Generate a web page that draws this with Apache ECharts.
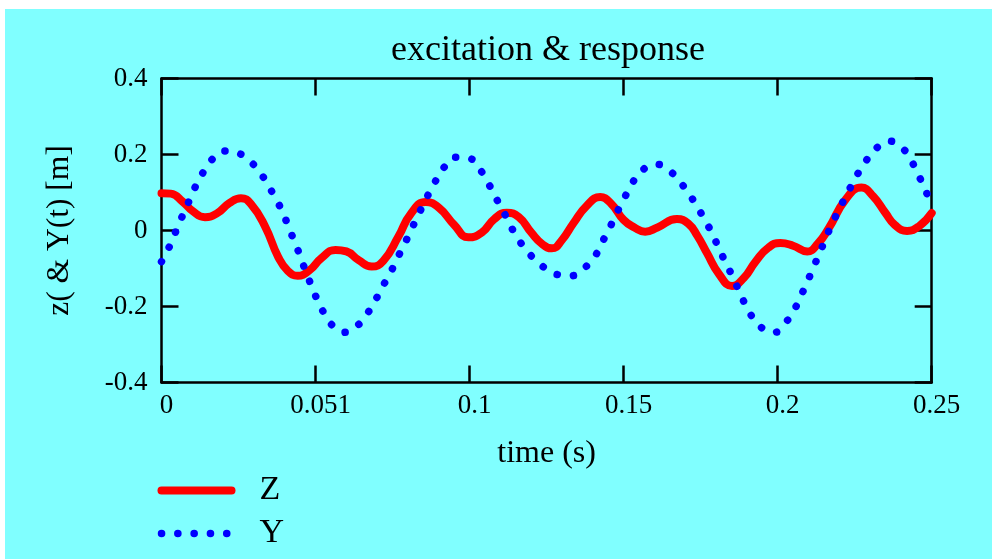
<!DOCTYPE html>
<html>
<head>
<meta charset="utf-8">
<script src="https://cdn.jsdelivr.net/npm/echarts@6/dist/echarts.min.js"></script>
<style>
  html, body { margin: 0; padding: 0; background: #ffffff; }
  #bg { position: absolute; left: 5px; top: 9px; width: 987px; height: 550px; background: #80ffff; }
  #chart { position: absolute; left: 0; top: 0; width: 992px; height: 559px; }
</style>
</head>
<body>
<div id="bg"></div>
<div id="chart"></div>
<script>
// ---- data ----
var zTime = [0, 0.003, 0.007, 0.010, 0.0141, 0.018, 0.022, 0.0258, 0.029, 0.0336, 0.0379, 0.041, 0.0442, 0.048, 0.052, 0.0565, 0.060, 0.064, 0.0682, 0.072, 0.0769, 0.081, 0.0858, 0.090, 0.095, 0.0996, 0.104, 0.108, 0.1121, 0.116, 0.120, 0.1235, 0.1267, 0.130, 0.1337, 0.138, 0.1424, 0.146, 0.150, 0.1535, 0.157, 0.161, 0.1673, 0.171, 0.174, 0.1771, 0.181, 0.1852, 0.189, 0.1928, 0.197, 0.2009, 0.205, 0.2096, 0.213, 0.2166, 0.222, 0.2272, 0.231, 0.235, 0.238, 0.242, 0.246, 0.25];
var zValues = [0.098, 0.097, 0.075, 0.052, 0.035, 0.045, 0.072, 0.085, 0.070, 0.011, -0.070, -0.106, -0.119, -0.105, -0.072, -0.051, -0.055, -0.078, -0.095, -0.080, -0.016, 0.045, 0.075, 0.060, 0.015, -0.018, -0.005, 0.030, 0.047, 0.035, -0.005, -0.035, -0.047, -0.025, 0.019, 0.065, 0.088, 0.070, 0.028, 0.008, -0.003, 0.008, 0.030, 0.018, -0.015, -0.060, -0.115, -0.146, -0.125, -0.082, -0.045, -0.033, -0.040, -0.055, -0.035, 0.006, 0.081, 0.113, 0.090, 0.046, 0.015, -0.001, 0.012, 0.046];

var yTime = [0, 0.0024, 0.0045, 0.0065, 0.0087, 0.0108, 0.0133, 0.0162, 0.0206, 0.0257, 0.0297, 0.033, 0.0357, 0.0382, 0.0404, 0.0423, 0.0443, 0.0461, 0.048, 0.05, 0.0523, 0.055, 0.0593, 0.0639, 0.0671, 0.0698, 0.0723, 0.0748, 0.0771, 0.0795, 0.0817, 0.084, 0.0863, 0.0888, 0.0916, 0.0953, 0.1002, 0.1037, 0.1063, 0.1088, 0.1113, 0.1137, 0.1164, 0.1197, 0.1235, 0.1279, 0.133, 0.1375, 0.1409, 0.1433, 0.1457, 0.148, 0.1504, 0.1529, 0.1561, 0.1608, 0.1655, 0.1689, 0.172, 0.1748, 0.1774, 0.1797, 0.1819, 0.1842, 0.1864, 0.1886, 0.191, 0.1942, 0.1988, 0.2028, 0.2057, 0.2079, 0.2101, 0.2121, 0.2142, 0.2162, 0.2184, 0.2207, 0.2232, 0.2257, 0.2285, 0.2317, 0.2362, 0.2407, 0.2437, 0.246, 0.2482, 0.25];
var yValues = [-0.082, -0.045, -0.005, 0.033, 0.073, 0.112, 0.150, 0.185, 0.209, 0.201, 0.175, 0.141, 0.104, 0.067, 0.027, -0.012, -0.052, -0.092, -0.132, -0.172, -0.211, -0.246, -0.268, -0.248, -0.215, -0.178, -0.140, -0.103, -0.064, -0.025, 0.013, 0.052, 0.090, 0.128, 0.165, 0.193, 0.189, 0.157, 0.121, 0.082, 0.045, 0.006, -0.030, -0.064, -0.093, -0.115, -0.119, -0.097, -0.065, -0.027, 0.011, 0.050, 0.088, 0.126, 0.159, 0.174, 0.153, 0.122, 0.087, 0.050, 0.013, -0.025, -0.064, -0.102, -0.140, -0.180, -0.218, -0.252, -0.268, -0.240, -0.204, -0.166, -0.126, -0.088, -0.048, -0.009, 0.030, 0.068, 0.107, 0.145, 0.181, 0.214, 0.235, 0.215, 0.179, 0.141, 0.102, 0.063];

var xTickLabels = ['0', '0.051', '0.1', '0.15', '0.2', '0.25'];
var seriesNames = ['Z', 'Y'];

// ---- chart ----
var FONT = "'Liberation Serif', 'Times New Roman', serif";
function pairs(t, v) { return t.map(function (x, i) { return [x, v[i]]; }); }

var axisLine = { show: true, onZero: false, lineStyle: { color: '#000', width: 2.5 } };
var axisTick = { show: true, inside: true, length: 17, lineStyle: { color: '#000', width: 2.5 } };
var hiddenSymbol = { color: 'rgba(0,0,0,0)', borderColor: 'rgba(0,0,0,0)', borderWidth: 0, opacity: 0 };

var chart = echarts.init(document.getElementById('chart'), null, { renderer: 'canvas' });
chart.setOption({
  backgroundColor: 'transparent',
  animation: false,
  title: {
    text: 'excitation & response',
    left: 386,
    top: 26,
    textStyle: { fontFamily: FONT, fontSize: 36, fontWeight: 'normal', color: '#000', lineHeight: 40 }
  },
  grid: { left: 161.5, right: 60.3, top: 78.5, bottom: 176.5, containLabel: false },
  xAxis: [{
    type: 'value', min: 0, max: 0.25, interval: 0.05, position: 'bottom',
    axisLine: axisLine, axisTick: axisTick, splitLine: { show: false },
    axisLabel: {
      fontFamily: FONT, fontSize: 27, color: '#000', margin: 10, padding: [0, 0, 0, 10],
      formatter: function (v) { return xTickLabels[Math.round(v / 0.05)]; }
    },
    name: 'time (s)', nameLocation: 'middle', nameGap: 55,
    nameTextStyle: { fontFamily: FONT, fontSize: 32, color: '#000' }
  }, {
    type: 'value', min: 0, max: 0.25, interval: 0.05, position: 'top',
    axisLine: axisLine, axisTick: axisTick, splitLine: { show: false }, axisLabel: { show: false }
  }],
  yAxis: [{
    type: 'value', min: -0.4, max: 0.4, interval: 0.2, position: 'left',
    axisLine: axisLine, axisTick: axisTick, splitLine: { show: false },
    axisLabel: { fontFamily: FONT, fontSize: 27, color: '#000', margin: 14 },
    name: 'z( & Y(t) [m]', nameLocation: 'middle', nameGap: 86, nameRotate: 90,
    nameTextStyle: { fontFamily: FONT, fontSize: 31.5, color: '#000' }
  }, {
    type: 'value', min: -0.4, max: 0.4, interval: 0.2, position: 'right',
    axisLine: axisLine, axisTick: axisTick, splitLine: { show: false }, axisLabel: { show: false }
  }],
  legend: {
    orient: 'vertical', left: 157.5, top: 471, padding: 0, itemWidth: 70, itemHeight: 14, itemGap: 4,
    selectedMode: false,
    textStyle: { fontFamily: FONT, fontSize: 34, color: '#000', lineHeight: 34, padding: [5, 0, 0, 23] },
    data: [
      { name: seriesNames[0], itemStyle: hiddenSymbol, lineStyle: { color: '#ff0000', width: 8, cap: 'round' } },
      { name: seriesNames[1], itemStyle: hiddenSymbol, lineStyle: { color: '#0000ff', width: 7.5, cap: 'round', type: [0.1, 16.2] } }
    ]
  },
  series: [{
    name: seriesNames[0], type: 'line', smooth: true, symbol: 'none', showSymbol: false,
    data: pairs(zTime, zValues),
    lineStyle: { color: '#ff0000', width: 8, cap: 'round', join: 'round' },
    itemStyle: { color: '#ff0000' }, z: 3
  }, {
    name: seriesNames[1], type: 'line', smooth: true, symbol: 'none', showSymbol: false,
    data: pairs(yTime, yValues),
    lineStyle: { color: '#0000ff', width: 7.5, cap: 'round', type: [0.1, 16.2] },
    itemStyle: { color: '#0000ff' }, z: 4
  }]
});
</script>
</body>
</html>
